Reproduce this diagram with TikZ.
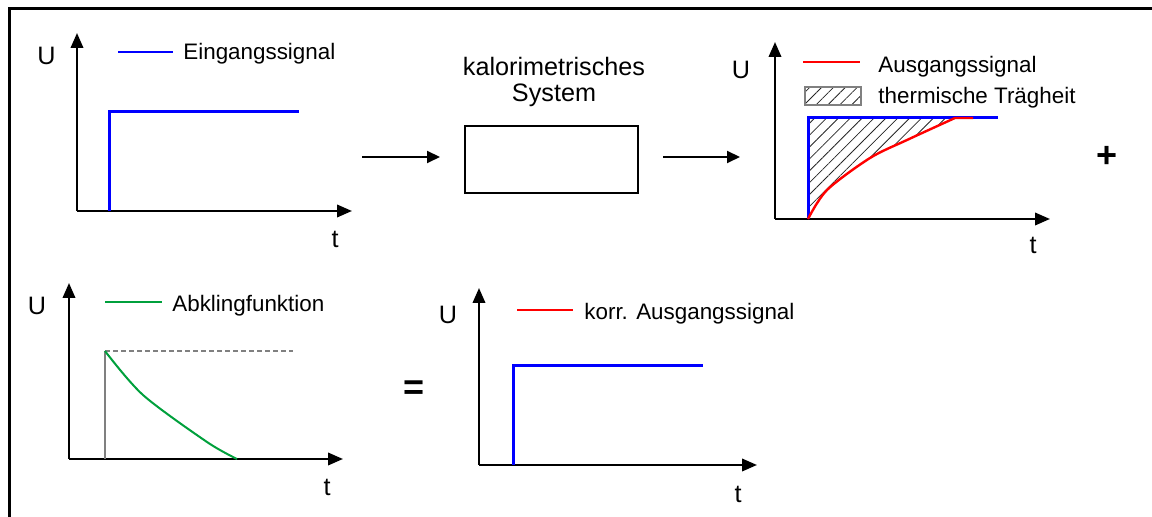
\documentclass[tikz,border=0pt]{standalone}
\usepackage{fontspec}
\setmainfont{Liberation Sans}
\usepackage{xcolor}
\usetikzlibrary{arrows.meta,patterns.meta}
\definecolor{sig}{RGB}{0,0,255}
\definecolor{outsig}{RGB}{255,0,0}
\definecolor{decay}{RGB}{0,160,60}
\definecolor{aux}{RGB}{128,128,128}
\tikzset{
  frame/.style={draw=black, line width=1.5pt},
  axis/.style={draw=black, line width=1.2pt, -{Triangle[length=7.5pt,width=6.2pt]}},
  flow/.style={draw=black, line width=1pt, -{Triangle[length=6.5pt,width=6pt]}},
  sysbox/.style={draw=black, line width=1pt, minimum width=86.5pt, minimum height=33.5pt, inner sep=0pt},
  insig/.style={draw=sig, line width=1.5pt},
  keyline/.style={line width=1pt},
  redsig/.style={draw=outsig, line width=1.2pt},
  decsig/.style={draw=decay, line width=1pt},
  hatch/.style={pattern={Lines[angle=45,distance=4.2pt,line width=0.4pt]}, pattern color=black!85},
  lab/.style={font=\fontsize{12.6}{13}\selectfont, inner sep=0pt},
  leg/.style={font=\fontsize{11.2}{13}\selectfont, anchor=base west, inner sep=0pt},
  op/.style={font=\fontsize{18}{20}\selectfont\bfseries, inner sep=0pt},
}

\begin{document}
\begin{tikzpicture}[x=0.5pt, y=-0.5pt]
  \useasboundingbox (0,0) rectangle (1152,517);
  \draw[frame] (9,9) rectangle (1170,540);

  % input step
  \coordinate (O1) at (77,211);
  \draw[axis] (O1) -- (77,33);
  \draw[axis] (O1) -- (352,211);
  \draw[insig] (109,211) -- (109,112) -- (299,112);
  \draw[insig, keyline] (118,52) -- (173,52);
  \node[leg] (legin) at (183,60) {Eingangssignal};
  \node[lab] (u1) at (46.5,56) {U};
  \node[lab] (t1) at (335,239) {t};

  % system block
  \node[lab, align=center, anchor=north] (systxt) at (554,57) {kalorimetrisches\\System};
  \node[sysbox] (sys) at (551.5,159.5) {};
  \coordinate (in1) at (362,157);
  \coordinate (in2) at (440,157);
  \coordinate (out1) at (663,157);
  \coordinate (out2) at (740,157);
  \draw[flow] (in1) -- (in2);
  \draw[flow] (out1) -- (out2);

  % output with thermal lag
  \coordinate (O2) at (775,219);
  \fill[hatch] (808,219) -- (808,118) -- (955,118)
    -- plot[smooth] coordinates {(955,118) (907,140) (870,158) (827,190) (808,219)} -- cycle;
  \draw[axis] (O2) -- (775,42);
  \draw[axis] (O2) -- (1050,219);
  \draw[insig] (808,219) -- (808,118) -- (998,118);
  \draw[redsig] plot[smooth] coordinates {(808,219) (827,190) (870,158) (907,140) (955,118)} -- (973,118);
  \draw[redsig, keyline] (803,62) -- (860,62);
  \node[leg] (legout) at (878,73) {Ausgangssignal};
  \node[draw=aux, line width=0.6pt, hatch, minimum width=28pt, minimum height=9pt, inner sep=0pt] (hatchkey) at (833,96) {};
  \node[leg] (leglag) at (878,104) {thermische Trägheit};
  \node[lab] (u2) at (741,70) {U};
  \node[lab] (t2) at (1033,245) {t};
  \node[op] (plus) at (1107.5,156.5) {+};

  % decay function
  \coordinate (O3) at (69,459);
  \draw[axis] (O3) -- (69,283);
  \draw[axis] (O3) -- (343,459);
  \draw[draw=aux, line width=1pt] (105,459) -- (105,351);
  \draw[draw=aux, line width=0.8pt, dash pattern=on 2.5pt off 1.5pt] (105,351) -- (293,351);
  \draw[decsig] plot[smooth] coordinates {(105,351) (143,395) (207,442) (237,459)};
  \draw[decsig, keyline] (105,302) -- (162,302);
  \node[leg] (legdecay) at (172,312) {Abklingfunktion};
  \node[lab] (u3) at (37,306) {U};
  \node[lab] (t3) at (327,487) {t};

  \node[op] (eq) at (414,390) {=};

  % corrected output
  \coordinate (O4) at (479,465);
  \draw[axis] (O4) -- (479,288);
  \draw[axis] (O4) -- (757,465);
  \draw[insig] (513,465) -- (513,366) -- (703,366);
  \draw[redsig, keyline] (517,310) -- (573,310);
  \node[leg] (legcorr) at (584,320) {korr. Ausgangssignal};
  \node[lab] (u4) at (448,315) {U};
  \node[lab] (t4) at (738,494) {t};
\end{tikzpicture}
\end{document}
